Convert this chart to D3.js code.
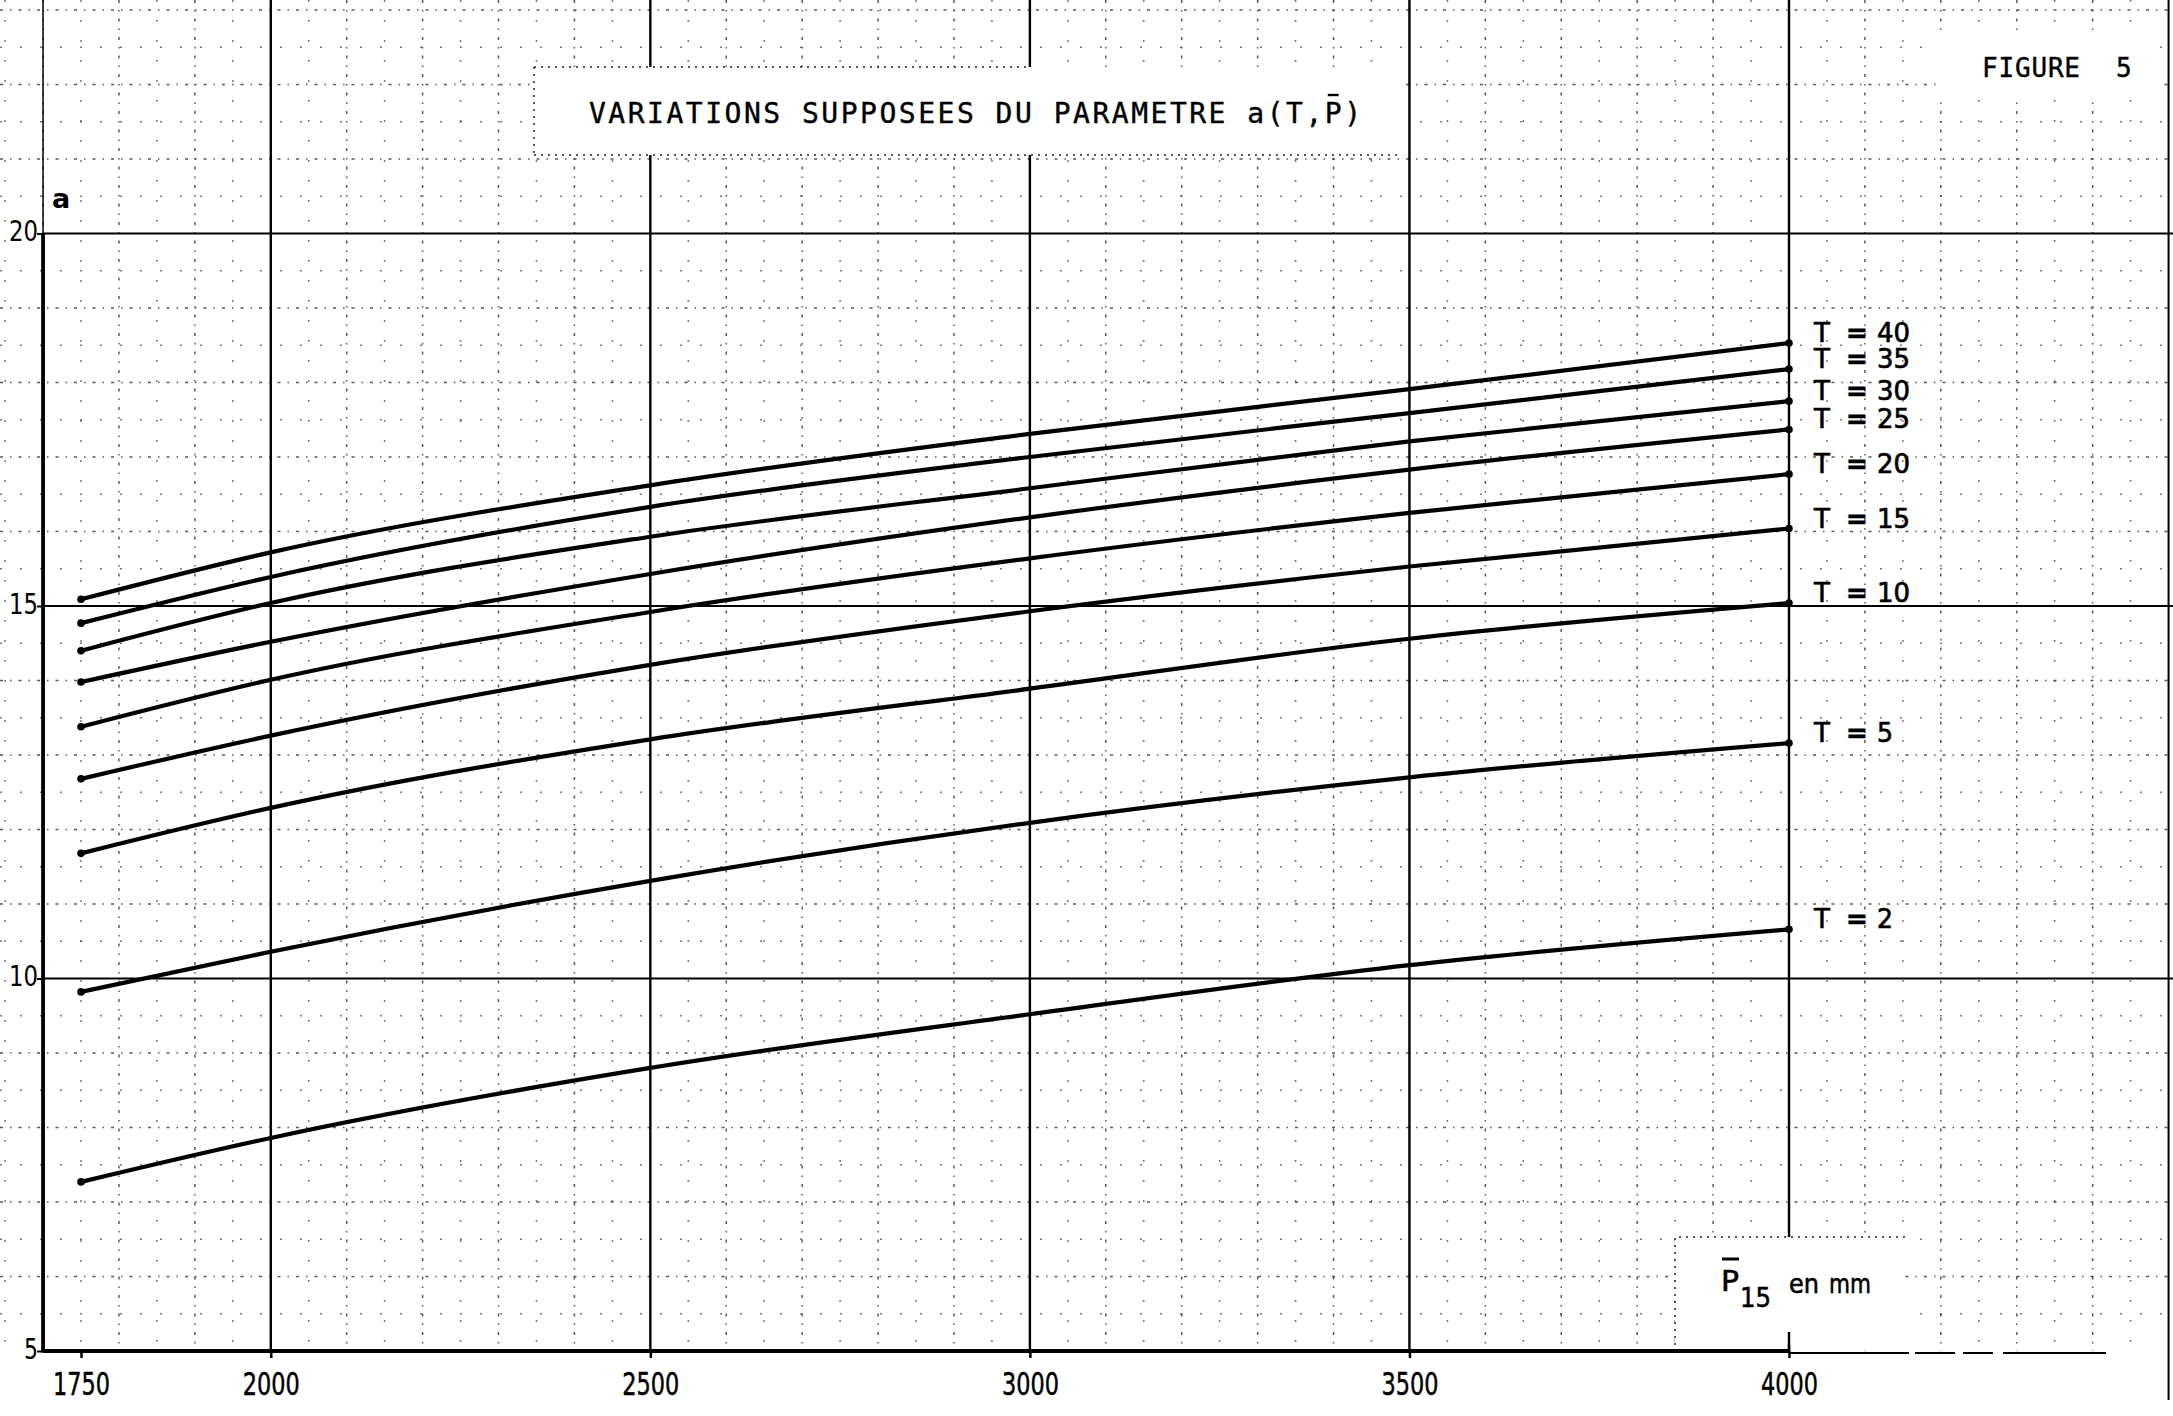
<!DOCTYPE html>
<html>
<head>
<meta charset="utf-8">
<script src="https://cdn.jsdelivr.net/npm/d3@7"></script>
<style>
  html, body { margin: 0; padding: 0; background: #fff; }
  svg { display: block; }
  text { fill: #000; }
</style>
</head>
<body>
<svg id="chart" width="2173" height="1416"></svg>
<script>
// ---------------- data ----------------
const xTicks = [1750, 2000, 2500, 3000, 3500, 4000];
const xTickLabels = ["1750", "2000", "2500", "3000", "3500", "4000"];
const yTicks = [5, 10, 15, 20];
const yTickLabels = ["5", "10", "15", "20"];
const pValues = [1750, 2000, 2500, 3000, 3500, 4000];
const tValues = [40, 35, 30, 25, 20, 15, 10, 5, 2];
const aT40 = [15.09, 15.72, 16.62, 17.31, 17.91, 18.53];
const aT35 = [14.77, 15.39, 16.33, 17.00, 17.59, 18.18];
const aT30 = [14.40, 15.04, 15.93, 16.58, 17.21, 17.75];
const aT25 = [13.98, 14.52, 15.43, 16.19, 16.83, 17.37];
const aT20 = [13.38, 14.01, 14.92, 15.64, 16.25, 16.77];
const aT15 = [12.68, 13.26, 14.21, 14.93, 15.53, 16.04];
const aT10 = [11.68, 12.29, 13.21, 13.89, 14.56, 15.04];
const aT5  = [9.82, 10.36, 11.31, 12.09, 12.70, 13.16];
const aT2  = [7.27, 7.86, 8.80, 9.52, 10.18, 10.66];
const titleText = "VARIATIONS SUPPOSEES DU PARAMETRE a(T,P)";
const figureText = "FIGURE";
const figureNum = "5";
const yAxisLabel = "a";
const xAxisLabelMain = "P";
const xAxisLabelSub = "15";
const xAxisLabelUnit = ["en", "mm"];

const seriesValues = [aT40, aT35, aT30, aT25, aT20, aT15, aT10, aT5, aT2];
const series = tValues.map((t, i) => ({
  t, points: pValues.map((p, j) => ({ p, a: seriesValues[i][j] }))
}));

// ---------------- scales ----------------
const svg = d3.select("#chart");
const x = d3.scaleLinear().domain([1750, 4000]).range([81, 1789]);
const y = d3.scaleLinear().domain([5, 20]).range([1351, 233.5]);
const W = 2173;
const axisX = x(1700);
const axisY = y(5);
const font = "'DejaVu Sans', 'Liberation Sans', sans-serif";
const monoFont = "'DejaVu Sans Mono', 'Liberation Mono', monospace";

// ---------------- graph-paper grid ----------------
const grid = svg.append("g");
const xMinor = d3.range(1650, 4601, 50).filter(v => v % 500 !== 0);
const yMinor = d3.range(5.5, 23.6, 0.5).filter(v => v % 5 !== 0);

grid.selectAll("line.vx").data(xMinor).join("line")
  .attr("x1", d => x(d)).attr("x2", d => x(d))
  .attr("y1", 0).attr("y2", axisY)
  .attr("stroke", "#222")
  .attr("stroke-width", 1.5)
  .attr("stroke-dasharray", d => d % 100 === 0 ? "3,7,1.5,7" : "2,18")
  .attr("opacity", d => d % 100 === 0 ? 0.75 : 0.6);

grid.selectAll("line.hy").data(yMinor).join("line")
  .attr("x1", 0).attr("x2", W)
  .attr("y1", d => y(d)).attr("y2", d => y(d))
  .attr("stroke", "#222")
  .attr("stroke-width", 1.5)
  .attr("stroke-dasharray", d => Number.isInteger(d) ? "3,7,1.5,7" : "2,18")
  .attr("opacity", d => Number.isInteger(d) ? 0.75 : 0.6);

// major solid lines
const xMajor = [2000, 2500, 3000, 3500, 4000, 4500];
const yMajor = [10, 15, 20];
grid.selectAll("line.mx").data(xMajor).join("line")
  .attr("x1", d => x(d)).attr("x2", d => x(d))
  .attr("y1", 0).attr("y2", d => d === 4500 ? 1400 : axisY)
  .attr("stroke", "#000").attr("stroke-width", d => d === 4500 ? 2 : 2.4);
grid.selectAll("line.my").data(yMajor).join("line")
  .attr("x1", axisX).attr("x2", W)
  .attr("y1", d => y(d)).attr("y2", d => y(d))
  .attr("stroke", "#000").attr("stroke-width", 2);

// ---------------- label boxes (white) ----------------
const boxes = svg.append("g");
boxes.append("rect").attr("x", 534).attr("y", 67).attr("width", 868).attr("height", 88).attr("fill", "#fff");
boxes.append("path").attr("d", "M534,67H1027M534,155H1400M534,67V155")
  .attr("stroke", "#222").attr("stroke-width", 1.5).attr("stroke-dasharray", "2,5").attr("fill", "none");
boxes.append("rect").attr("x", 1940).attr("y", 30).attr("width", 220).attr("height", 70).attr("fill", "#fff");
boxes.append("rect").attr("x", 1675).attr("y", 1237).attr("width", 230).attr("height", 108).attr("fill", "#fff");
boxes.append("path").attr("d", "M1675,1345V1237H1905")
  .attr("stroke", "#222").attr("stroke-width", 1.5).attr("stroke-dasharray", "2,5").attr("fill", "none");
boxes.append("line").attr("x1", x(4000)).attr("x2", x(4000)).attr("y1", 1332).attr("y2", axisY)
  .attr("stroke", "#000").attr("stroke-width", 2.4);

// ---------------- axes ----------------
const ax = svg.append("g");
ax.append("line").attr("x1", axisX).attr("x2", axisX).attr("y1", 0).attr("y2", y(20))
  .attr("stroke", "#000").attr("stroke-width", 1.5);
ax.append("line").attr("x1", axisX).attr("x2", axisX).attr("y1", y(20)).attr("y2", axisY + 1.5)
  .attr("stroke", "#000").attr("stroke-width", 3.8);
ax.append("line").attr("x1", axisX).attr("x2", x(4000)).attr("y1", axisY).attr("y2", axisY)
  .attr("stroke", "#000").attr("stroke-width", 3.8);
ax.append("line").attr("x1", x(4000)).attr("x2", 2106).attr("y1", axisY + 2).attr("y2", axisY + 2)
  .attr("stroke", "#000").attr("stroke-width", 1.8).attr("stroke-dasharray", "120,6,40,8,30,10");

const xAxis = d3.axisBottom(x).tickValues(xTicks).tickSize(7)
  .tickFormat((d, i) => xTickLabels[i]);
const gx = svg.append("g").attr("transform", `translate(0,${axisY})`).call(xAxis);
gx.select(".domain").remove();
gx.selectAll(".tick line").attr("stroke", "#000").attr("stroke-width", 2.5);
gx.selectAll(".tick text")
  .attr("y", 44).attr("dy", 0)
  .attr("font-family", font).attr("font-size", 32)
  .attr("textLength", 57).attr("lengthAdjust", "spacingAndGlyphs")
  .attr("stroke", "#000").attr("stroke-width", 0.5)
  .attr("fill", "#000");

const yAxis = d3.axisLeft(y).tickValues(yTicks).tickSize(6).tickPadding(3)
  .tickFormat((d, i) => yTickLabels[i]);
const gy = svg.append("g").attr("transform", `translate(${axisX},0)`).call(yAxis);
gy.select(".domain").remove();
gy.selectAll(".tick line").attr("stroke", "#000").attr("stroke-width", 2);
gy.selectAll(".tick text")
  .attr("dy", 7).attr("x", -5)
  .attr("font-family", font).attr("font-size", 29)
  .attr("textLength", d => d >= 10 ? 29 : 14).attr("lengthAdjust", "spacingAndGlyphs")
  .attr("fill", "#000");

// ---------------- curves ----------------
const line = d3.line().x(d => x(d.p)).y(d => y(d.a)).curve(d3.curveMonotoneX);
const curves = svg.append("g");
curves.selectAll("path").data(series).join("path")
  .attr("d", d => line(d.points))
  .attr("fill", "none").attr("stroke", "#000").attr("stroke-width", 4.2)
  .attr("stroke-linecap", "round");
curves.selectAll("circle.s").data(series).join("circle")
  .attr("cx", d => x(d.points[0].p)).attr("cy", d => y(d.points[0].a)).attr("r", 3.8).attr("fill", "#000");
curves.selectAll("circle.e").data(series).join("circle")
  .attr("cx", d => x(d.points[d.points.length - 1].p)).attr("cy", d => y(d.points[d.points.length - 1].a))
  .attr("r", 3.8).attr("fill", "#000");

// T labels
const lab = svg.append("g").attr("font-family", font).attr("font-size", 26)
  .attr("stroke", "#000").attr("stroke-width", 0.7);
const lg = lab.selectAll("g").data(series).join("g")
  .attr("transform", d => `translate(0,${y(d.points[d.points.length - 1].a) - 1})`);
lg.append("text").attr("x", 1814).text("T");
lg.append("text").attr("x", 1846).attr("font-weight", "bold").text("=");
lg.append("text").attr("x", 1877).attr("textLength", d => d.t >= 10 ? 33 : 16)
  .attr("lengthAdjust", "spacingAndGlyphs").text(d => d.t);

// ---------------- texts ----------------
const title = svg.append("text")
  .attr("x", 589).attr("y", 123)
  .attr("font-family", monoFont).attr("font-size", 28)
  .attr("stroke", "#000").attr("stroke-width", 0.4)
  .attr("textLength", 772).attr("lengthAdjust", "spacing")
  .text(titleText);
{
  const idx = titleText.lastIndexOf("P");
  const ext = title.node().getExtentOfChar(idx);
  svg.append("line")
    .attr("x1", ext.x + 3).attr("x2", ext.x + ext.width - 3)
    .attr("y1", 95).attr("y2", 95)
    .attr("stroke", "#000").attr("stroke-width", 2.4);
}

svg.append("text").attr("x", 1982).attr("y", 77)
  .attr("font-family", monoFont).attr("font-size", 26)
  .attr("stroke", "#000").attr("stroke-width", 0.4)
  .attr("textLength", 98).attr("lengthAdjust", "spacing")
  .text(figureText);
svg.append("text").attr("x", 2116).attr("y", 77)
  .attr("font-family", monoFont).attr("font-size", 26)
  .attr("stroke", "#000").attr("stroke-width", 0.4)
  .text(figureNum);

svg.append("text").attr("x", 52).attr("y", 208)
  .attr("font-family", font).attr("font-weight", "bold").attr("font-size", 27)
  .text(yAxisLabel);

// x-axis label  P̄15 en mm
const xl = svg.append("g").attr("font-family", font).attr("stroke", "#000").attr("stroke-width", 0.6);
xl.append("text").attr("x", 1721).attr("y", 1291)
  .attr("font-size", 28)
  .attr("textLength", 18).attr("lengthAdjust", "spacingAndGlyphs")
  .text(xAxisLabelMain);
svg.append("line").attr("x1", 1722).attr("x2", 1739).attr("y1", 1259).attr("y2", 1259)
  .attr("stroke", "#000").attr("stroke-width", 3);
xl.append("text").attr("x", 1740).attr("y", 1307)
  .attr("font-size", 27)
  .attr("textLength", 31).attr("lengthAdjust", "spacingAndGlyphs")
  .text(xAxisLabelSub);
xl.append("text").attr("x", 1789).attr("y", 1293)
  .attr("font-size", 27)
  .attr("textLength", 30).attr("lengthAdjust", "spacingAndGlyphs")
  .text(xAxisLabelUnit[0]);
xl.append("text").attr("x", 1829).attr("y", 1293)
  .attr("font-size", 27)
  .attr("textLength", 42).attr("lengthAdjust", "spacingAndGlyphs")
  .text(xAxisLabelUnit[1]);
</script>
</body>
</html>
